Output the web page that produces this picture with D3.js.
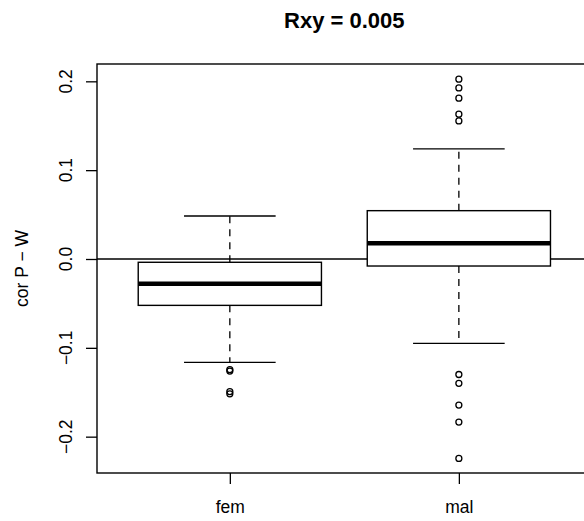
<!DOCTYPE html>
<html>
<head>
<meta charset="utf-8">
<script src="https://cdn.jsdelivr.net/npm/d3@7"></script>
<style>
  body { margin: 0; background: #fff; }
  svg { display: block; }
  text { font-family: "Liberation Sans", Arial, sans-serif; fill: #000; }
</style>
</head>
<body>
<svg id="chart" width="584" height="521"></svg>
<script>
// ---- data ----
const categories = ["fem", "mal"];
const whiskerLow  = [-0.1164, -0.0950];
const q1          = [-0.0522, -0.0079];
const medians     = [-0.0278,  0.0177];
const q3          = [-0.0037,  0.0544];
const whiskerHigh = [ 0.0484,  0.1239];
const femOutliers = [-0.1245, -0.1262, -0.1492, -0.1518];
const malOutliers = [0.2024, 0.1926, 0.1810, 0.1630, 0.1554, -0.1300, -0.1400, -0.1644, -0.1836, -0.2245];
const yTicks = [-0.2, -0.1, 0.0, 0.1, 0.2];
const yTickLabels = ["\u22120.2", "\u22120.1", "0.0", "0.1", "0.2"];
const title = "Rxy = 0.005";
const yLabel = "cor P \u2212 W";

const outliers = [femOutliers, malOutliers];

(function draw() {
const svg = d3.select("#chart");
const pLeft = 97, pRight = 591.7, pTop = 64, pBottom = 473;

const x = d3.scaleLinear().domain([0.42, 2.58]).range([pLeft, pRight]);
const y = d3.scaleLinear().domain([-0.2409, 0.2195]).range([pBottom, pTop]);

const boxHalf = (x(1.4) - x(1));   // boxwex 0.8
const capHalf = boxHalf / 2;       // staplewex 0.5

// reference line at 0
svg.append("line")
  .attr("x1", pLeft).attr("x2", pRight)
  .attr("y1", y(0)).attr("y2", y(0))
  .attr("stroke", "#000").attr("stroke-width", 1.3);

const g = svg.append("g");
categories.forEach((c, i) => {
  const cx = x(i + 1);
  g.append("line").attr("x1", cx).attr("x2", cx)
    .attr("y1", y(q3[i])).attr("y2", y(whiskerHigh[i]))
    .attr("stroke", "#000").attr("stroke-width", 1.3).attr("stroke-dasharray", "7,6");
  g.append("line").attr("x1", cx).attr("x2", cx)
    .attr("y1", y(q1[i])).attr("y2", y(whiskerLow[i]))
    .attr("stroke", "#000").attr("stroke-width", 1.3).attr("stroke-dasharray", "7,6");
  [whiskerHigh[i], whiskerLow[i]].forEach(v => {
    g.append("line").attr("x1", cx - capHalf).attr("x2", cx + capHalf)
      .attr("y1", y(v)).attr("y2", y(v))
      .attr("stroke", "#000").attr("stroke-width", 1.3);
  });
  g.append("rect")
    .attr("x", cx - boxHalf).attr("width", 2 * boxHalf)
    .attr("y", y(q3[i])).attr("height", y(q1[i]) - y(q3[i]))
    .attr("fill", "#fff").attr("stroke", "#000").attr("stroke-width", 1.4);
  g.append("line").attr("x1", cx - boxHalf).attr("x2", cx + boxHalf)
    .attr("y1", y(medians[i])).attr("y2", y(medians[i]))
    .attr("stroke", "#000").attr("stroke-width", 4.5);
  g.selectAll(null).data(outliers[i]).enter().append("circle")
    .attr("cx", cx).attr("cy", d => y(d)).attr("r", 3)
    .attr("fill", "none").attr("stroke", "#000").attr("stroke-width", 1.3);
});

// frame
svg.append("rect")
  .attr("x", pLeft).attr("y", pTop)
  .attr("width", pRight - pLeft).attr("height", pBottom - pTop)
  .attr("fill", "none").attr("stroke", "#000").attr("stroke-width", 1.4);

// y axis
const yAxis = svg.append("g").attr("transform", `translate(${pLeft},0)`)
  .call(d3.axisLeft(y).tickValues(yTicks).tickSize(11).tickFormat((d, i) => yTickLabels[i]));
yAxis.select(".domain").remove();
yAxis.selectAll(".tick line").attr("stroke", "#000").attr("stroke-width", 1.3);
yAxis.selectAll(".tick text").remove();
yTicks.forEach((t, i) => {
  svg.append("text")
    .attr("transform", `translate(72,${y(t)}) rotate(-90)`)
    .attr("text-anchor", "middle")
    .style("font-size", "17.5px")
    .text(yTickLabels[i]);
});

// x axis
const xAxis = svg.append("g").attr("transform", `translate(0,${pBottom})`)
  .call(d3.axisBottom(x).tickValues([1, 2]).tickSize(11).tickFormat((d) => categories[d - 1]));
xAxis.select(".domain").remove();
xAxis.selectAll(".tick line").attr("stroke", "#000").attr("stroke-width", 1.3);
xAxis.selectAll(".tick text")
  .attr("y", 0).attr("dy", null)
  .attr("transform", "translate(0,40)")
  .attr("fill", "#000")
  .style("font-size", "17.5px")
  .style("font-family", "'Liberation Sans', Arial, sans-serif");

// title
svg.append("text")
  .attr("x", (pLeft + pRight) / 2).attr("y", 28)
  .attr("text-anchor", "middle")
  .style("font-size", "22px").style("font-weight", "bold")
  .text(title);

// y label
svg.append("text")
  .attr("transform", `translate(28,${(pTop + pBottom) / 2}) rotate(-90)`)
  .attr("text-anchor", "middle")
  .style("font-size", "17.5px")
  .text(yLabel);
})();
</script>
</body>
</html>
